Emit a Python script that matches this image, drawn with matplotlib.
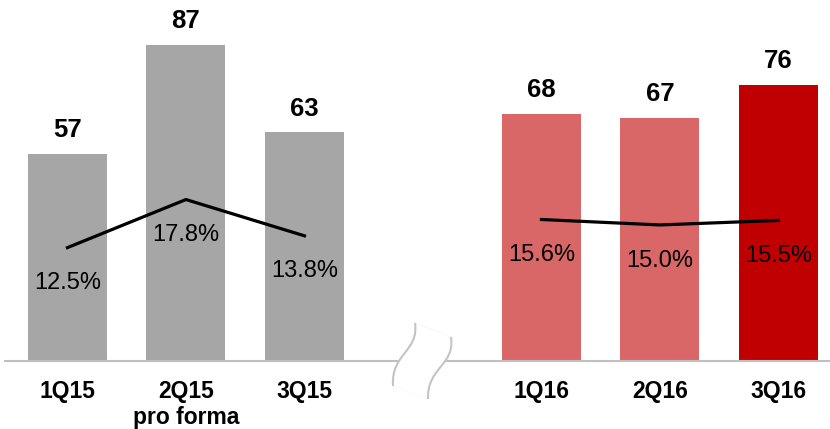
import matplotlib.pyplot as plt
import numpy as np
from matplotlib.path import Path
from matplotlib.patches import PathPatch

plt.rcParams['font.family'] = ['Liberation Sans', 'DejaVu Sans']

quarters = ['1Q15', '2Q15\npro forma', '3Q15', '1Q16', '2Q16', '3Q16']
values = [57, 87, 63, 68, 67, 76]
margins = [12.5, 17.8, 13.8, 15.6, 15.0, 15.5]
colors = ['#A6A6A6', '#A6A6A6', '#A6A6A6', '#D96767', '#D96767', '#C00000']

# one empty slot between the two years
x = np.array([0, 1, 2, 4, 5, 6])

W, H = 830, 429
fig = plt.figure(figsize=(W / 100, H / 100), dpi=100)
ax = fig.add_axes([5 / W, 68 / H, 825 / W, 361 / H])

ax.bar(x, values, width=0.667, color=colors, zorder=2)
ax.set_xlim(-0.527, 6.435)
ax.set_ylim(0, 99.4)

for xi, v in zip(x, values):
    ax.annotate(str(v), (xi, v), xytext=(0, 12), textcoords='offset points',
                ha='center', va='baseline', fontsize=18.5, fontweight='bold')

for s in ['top', 'left', 'right']:
    ax.spines[s].set_visible(False)
ax.spines['bottom'].set_color('#BFBFBF')
ax.spines['bottom'].set_linewidth(1.5)
ax.set_yticks([])
ax.set_xticks(x)
ax.set_xticklabels(quarters, fontsize=16.5, fontweight='bold', linespacing=1.12)
ax.tick_params(axis='x', length=0, pad=14)

# margin line on its own scale, one segment per year
ax2 = ax.twinx()
ax2.set_ylim(0, 39.8)
ax2.axis('off')
for sl in [slice(0, 3), slice(3, 6)]:
    ax2.plot(x[sl], margins[sl], color='black', linewidth=2.3, zorder=3)
for xi, m in zip(x, margins):
    ax2.annotate(f'{m:.1f}%', (xi, m), xytext=(0, -30), textcoords='offset points',
                 ha='center', va='baseline', fontsize=17)


# axis break symbol, given in pixel coordinates from the top left
def fc(px, py):
    return (px / W, 1 - py / H)


left = [(415, 323), (419, 352), (391, 353), (393, 386)]
right = [(451, 337), (455, 366), (427, 367), (428, 399)]
verts = [fc(*p) for p in left] + [fc(*p) for p in right[::-1]] + [fc(*left[0])]
codes = [Path.MOVETO, Path.CURVE4, Path.CURVE4, Path.CURVE4,
         Path.LINETO, Path.CURVE4, Path.CURVE4, Path.CURVE4, Path.CLOSEPOLY]
fig.patches.append(PathPatch(Path(verts, codes), transform=fig.transFigure,
                             facecolor='white', edgecolor='#F6F6F6', linewidth=0.5))
for side in [left, right]:
    p = Path([fc(*q) for q in side], [Path.MOVETO, Path.CURVE4, Path.CURVE4, Path.CURVE4])
    fig.patches.append(PathPatch(p, transform=fig.transFigure, facecolor='none',
                                 edgecolor='#C4C4C4', linewidth=1.5))

fig.savefig('out.png', dpi=100)
